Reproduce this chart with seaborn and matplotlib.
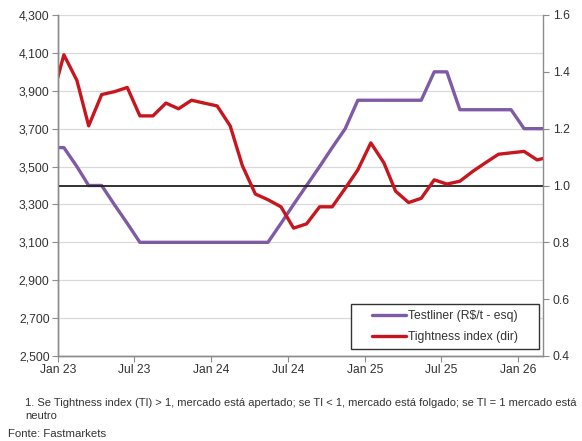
import pandas as pd
import matplotlib
matplotlib.use("Agg")
import matplotlib.pyplot as plt
import matplotlib.dates as mdates
from matplotlib.patches import Rectangle
import seaborn as sns

# monthly points, Dec 2022 .. Mar 2026 (plotted mid-month, axis clipped at Jan 23 / Mar 26)
months = pd.date_range("2022-12-01", "2026-03-01", freq="MS") + pd.Timedelta(days=14)

testliner = [3600, 3600, 3500, 3400, 3400, 3300, 3200, 3100, 3100, 3100, 3100, 3100, 3100,
             3100, 3100, 3100, 3100, 3100, 3200, 3300, 3400, 3500, 3600, 3700, 3850,
             3850, 3850, 3850, 3850, 3850, 4000, 4000, 3800, 3800, 3800, 3800, 3800,
             3700, 3700, 3700]
tightness = [1.29, 1.46, 1.37, 1.21, 1.32, 1.33, 1.345, 1.245, 1.245, 1.29, 1.27, 1.30, 1.29,
             1.28, 1.21, 1.07, 0.97, 0.95, 0.925, 0.85, 0.865, 0.925, 0.925, 0.99, 1.055,
             1.15, 1.08, 0.98, 0.94, 0.955, 1.02, 1.005, 1.015, 1.05, 1.08, 1.11, 1.115,
             1.12, 1.09, 1.10]

label_testliner = "Testliner (R$/t - esq)"
label_tightness = "Tightness index (dir)"
footnote = ("1. Se Tightness index (TI) > 1, mercado está apertado; se TI < 1, mercado está "
            "folgado; se TI = 1 mercado está\nneutro")
source = "Fonte: Fastmarkets"

df = pd.DataFrame({"date": months, "testliner": testliner, "tightness": tightness})

sns.set_style("white")
plt.rcParams["font.family"] = ["Liberation Sans", "DejaVu Sans"]
plt.rcParams["font.size"] = 8

purple = "#7F5BA6"
red = "#C8161E"
txt = "#333333"
spine = "#8C8C8C"

fig = plt.figure(figsize=(5.82, 4.41), dpi=100)
ax = fig.add_axes([58 / 582, 1 - 356 / 441, 485 / 582, 341 / 441])
ax2 = ax.twinx()

sns.lineplot(data=df, x="date", y="testliner", ax=ax, color=purple, linewidth=2.4,
             label=label_testliner, legend=False)
sns.lineplot(data=df, x="date", y="tightness", ax=ax2, color=red, linewidth=2.4,
             label=label_tightness, legend=False)
ax2.axhline(1.0, color="#222222", linewidth=1.3, zorder=1)

ax.set_xlim(pd.Timestamp("2023-01-01"), pd.Timestamp("2026-03-01"))
ax.set_ylim(2500, 4300)
ax2.set_ylim(0.4, 1.6)
ax.set_yticks(range(2500, 4301, 200))
ax2.set_yticks([0.4, 0.6, 0.8, 1.0, 1.2, 1.4, 1.6])
ax.yaxis.set_major_formatter(matplotlib.ticker.FuncFormatter(lambda v, p: f"{int(v):,}"))
ax2.yaxis.set_major_formatter(matplotlib.ticker.FormatStrFormatter("%.1f"))
ax.xaxis.set_major_locator(mdates.MonthLocator(bymonth=[1, 7]))
ax.xaxis.set_major_formatter(mdates.DateFormatter("%b %y"))

ax.set_xlabel("")
ax.set_ylabel("")
ax2.set_ylabel("")
ax.grid(axis="y", color="#D9D9D9", linewidth=0.9)
ax.set_axisbelow(True)

for a in (ax, ax2):
    a.spines["top"].set_visible(False)
    for s in ("left", "right", "bottom"):
        a.spines[s].set_color(spine)
        a.spines[s].set_linewidth(1.0)
    a.tick_params(colors=txt, labelsize=8.7, length=4, width=0.8, color=spine, direction="out")
ax.tick_params(axis="y", left=True, pad=2)
ax.tick_params(axis="x", bottom=True, pad=2)
ax2.tick_params(axis="y", right=True, pad=3)
ax.spines["right"].set_visible(False)

# legend with a square black frame
h1, l1 = ax.get_legend_handles_labels()
h2, l2 = ax2.get_legend_handles_labels()
x0, x1 = (351 - 58) / 485, (539 - 58) / 485
y0, y1 = (356 - 349) / 341, (356 - 304) / 341
ax2.add_patch(Rectangle((x0, y0), x1 - x0, y1 - y0, transform=ax2.transAxes,
                        facecolor="white", edgecolor="#333333", linewidth=1.0, zorder=4))
leg = ax2.legend(h1 + h2, l1 + l2, loc="center", bbox_to_anchor=((x0 + x1) / 2, (y0 + y1) / 2),
                 frameon=False, fontsize=8.7, handlelength=2.8, handletextpad=0.2,
                 labelspacing=0.75, borderpad=0)
leg.set_zorder(5)
for t in leg.get_texts():
    t.set_color(txt)

fig.text(25 / 582, 1 - 398 / 441, footnote, fontsize=8.0, color=txt, va="top", ha="left",
         linespacing=1.4)
fig.text(8 / 582, 1 - 434 / 441, source, fontsize=8.2, color=txt, va="center", ha="left")

fig.savefig("out.png", dpi=100)
